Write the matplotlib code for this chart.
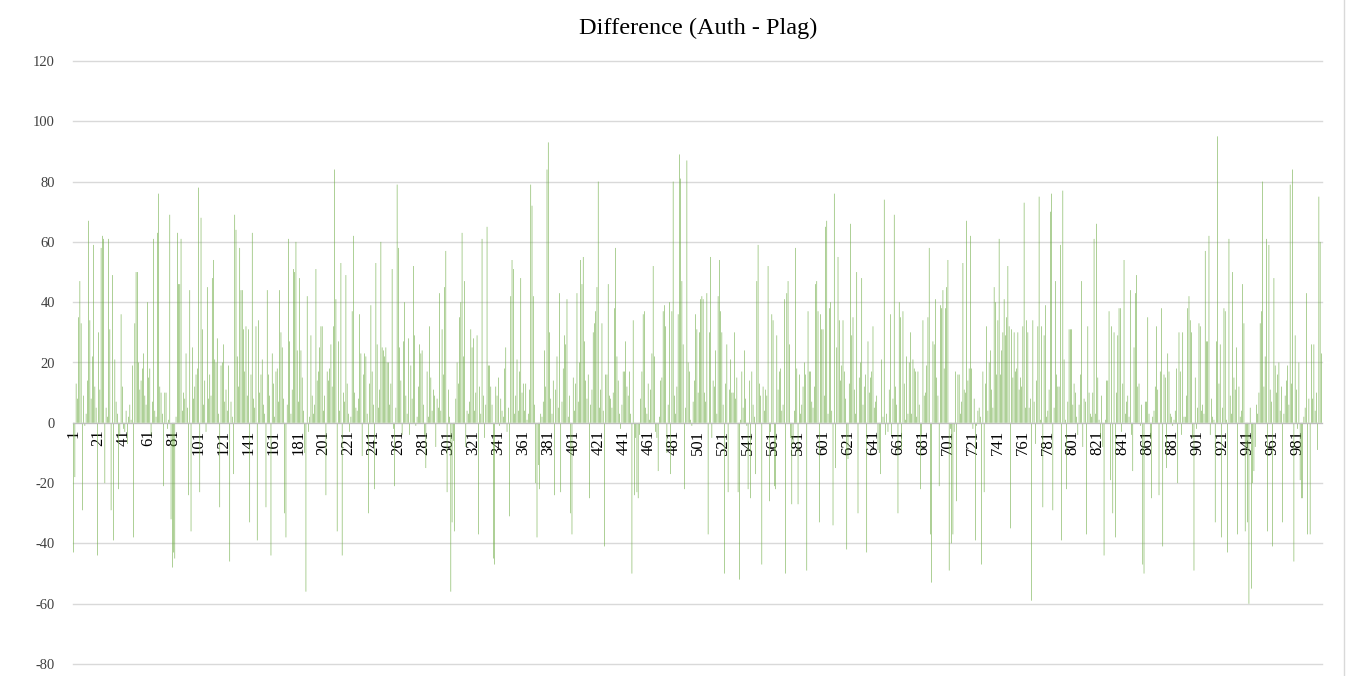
import numpy as np
import matplotlib
matplotlib.use('Agg')
import matplotlib.pyplot as plt
from matplotlib.lines import Line2D

# Auth - Plag difference per document, in runs of ~84 documents
seg01 = [-43, -18, 13, 8, 35, 47, 33, -29, 9, -1,
         3, 14, 67, 34, 8, 22, 59, 12, 5, -44,
         30, 11, 58, 62, 61, -20, 5, 2, 61, 31,
         -29, 49, -39, 21, 7, 3, -22, -4, 36, 12,
         -2, -3, 4, -7, 2, 6, 1, 19, -38, 33,
         50, 50, 20, 11, 14, 18, 23, 9, 6, 40,
         15, 18, -4, 7, 61, 4, 2, 63, 76, 12,
         10, 3, -21, 10, 10, -2, 1, 69, -32, -48,
         -43]
seg02 = [-45, 2, 63, 46, 46, 61, 4, 10, 8, 23,
         5, -24, 44, -36, 25, 8, 12, 16, 18, 78,
         -23, 68, 31, 6, 14, -3, 45, 8, 16, 9,
         48, 54, 21, 20, 28, 3, -28, 19, 20, 26,
         7, 11, 4, 19, -46, 7, 2, -17, 69, 64,
         22, 12, 58, 44, 44, 31, 17, 32, 9, 31,
         -33, 16, 63, 8, 5, 32, -39, 34, 10, 16,
         21, 6, 3, -28, 44, 16, 9, -44, 23, 13,
         2, 17, 18, 7]
seg03 = [44, 30, 25, 8, -30, -38, 6, 61, 27, 3,
         11, 51, 50, 60, 24, 7, 48, 24, 15, 4,
         -10, -56, 42, -3, 2, 29, 9, 3, 6, 51,
         14, 17, 25, 32, 32, 4, 9, -24, 17, 14,
         18, 26, 12, 32, 84, 41, -36, 27, 4, 53,
         -44, 10, 7, 49, 13, 3, -3, 2, 37, 62,
         10, 5, 4, 8, 36, 23, -11, 16, 23, 22,
         3, -30, 13, 39, 17, 6, -22, 53, 26, 5,
         11, 60, 25, 24]
seg04 = [22, 25, 20, 20, 6, 13, 51, -2, -21, 5,
         79, 58, 25, 14, -4, 27, 40, 9, 3, 28,
         -4, 19, 8, 52, 29, -1, 2, 12, 26, 23,
         24, 6, -4, -15, 17, 2, 32, 15, 4, 11,
         9, -8, 8, 5, 43, 4, 31, 16, 45, 57,
         -23, 11, 2, -56, -33, -6, -36, 8, 20, 13,
         35, 40, 63, 22, 47, -8, 4, 3, 7, 31,
         25, 28, 4, 10, 29, -37, 12, 3, 61, 9,
         -5, 6, 65, 19]
seg05 = [19, 12, 6, -45, -47, 12, 9, 15, -1, 8,
         4, 2, 18, 25, -3, 5, -31, 42, 54, 51,
         3, 9, 21, 4, 17, 48, 10, 13, 4, 13,
         1, 3, 11, 79, 72, 42, 6, -20, -38, -14,
         -22, 3, 2, 7, 24, 12, 84, 93, 30, 8,
         3, 14, -24, 11, 22, 5, 43, -23, 7, 18,
         29, 26, 41, 2, 9, -30, -37, 15, 4, 13,
         43, 7, 20, 54, 46, 55, 27, 14, 8, 16,
         -25, 6, 11, 30]
seg06 = [33, 37, 45, 80, 5, 11, 33, 4, -41, 16,
         16, 46, 9, 8, 5, 10, 38, 58, 22, 14,
         3, -2, 6, 17, 17, 27, 12, 9, 17, 3,
         -50, 34, -24, -5, -23, -25, -4, 8, 17, 36,
         37, 5, 3, 13, 1, 11, 23, 52, 22, -3,
         -5, -16, 2, 14, 15, 37, 39, 32, -10, 6,
         40, -17, 37, 80, 9, 3, 12, 36, 89, 81,
         47, 26, -22, 5, 87, 20, 17, 1, -1, 7,
         14, 36, 31, 10]
seg07 = [30, 41, 42, 41, 10, 7, 43, -37, 30, 55,
         -5, 14, 12, 24, 3, 42, 54, 37, 30, 6,
         -50, 13, 26, -23, 11, 21, 10, 10, 30, 8,
         15, -23, -52, 1, 17, 5, 24, 8, -1, -22,
         14, -25, 17, 6, 2, -17, 47, 59, 13, 9,
         -47, 12, 4, 11, 9, 52, -26, -3, 36, 34,
         -21, -22, 29, 11, 17, 18, 4, 6, 41, -50,
         43, 47, 26, -5, -27, -7, 4, 58, 18, -27,
         16, 3, 6, 12]
seg08 = [20, 16, -49, 37, 17, 17, 7, 5, 12, 46,
         47, 37, -33, 36, 31, 31, 9, 65, 67, 3,
         38, 40, 4, -34, 76, -15, 25, 55, 34, 14,
         19, 34, 17, 8, -42, -12, 13, 66, 29, 35,
         11, 3, 50, -30, 15, 20, 48, 6, 12, 16,
         -43, 27, 10, 15, 17, 32, 5, 7, 9, -9,
         -10, -17, 21, 2, 74, -4, 3, -3, 11, 36,
         -4, 8, 69, 12, 6, -30, 40, 35, -9, 37,
         13, 1, 22, 3]
seg09 = [20, 30, 3, 21, 18, 17, 2, 17, 6, -22,
         -4, 34, 9, 10, 19, 35, 58, -37, -53, 27,
         26, 41, 15, 9, -21, 39, 38, 44, 18, 38,
         45, 54, -49, -2, -40, -37, -3, 17, -26, 16,
         16, 3, 7, 53, 11, 10, 67, 14, 18, 62,
         18, -2, 8, -39, -1, 4, 5, 2, -47, 17,
         -23, 13, 32, 4, 20, 24, 11, 5, 45, 40,
         16, 34, 61, 16, 24, 30, 41, 29, 35, 52,
         32, -35, 31, 15, 30]
seg10 = [17, 18, 30, 11, 15, 12, 32, 73, 5, 34,
         30, 5, 8, -59, 34, 7, -7, 14, 32, 75,
         1, 32, -28, 29, 39, 2, 4, 11, 70, 76,
         -29, 5, 47, 16, 12, 12, 59, -39, 77, 21,
         1, -22, 7, 31, 31, 31, 6, 13, 10, 2,
         -4, 6, 16, 47, -8, 8, 7, -37, 32, 10,
         3, 2, 10, 61, 3, 66, 15, 1, -5, 9,
         -8, -44, 1, 14, 14, 37, -19, 32, -30, 30,
         -38, 10, 29, 38]
seg11 = [38, -3, 13, 54, 3, 7, 9, 2, 44, -4,
         -16, 25, 43, 49, 12, 13, -1, 6, -47, -50,
         7, 7, 35, 3, -5, -25, 2, 4, 12, 32,
         11, -24, 17, 38, -41, 16, 15, -15, 23, 17,
         3, 2, -1, 1, 4, 18, -20, 30, 17, -4,
         30, 2, 2, 9, 38, 42, 34, 30, -5, -49,
         15, -2, 5, 33, 32, 4, 6, 3, 57, 27,
         27, 62, -4, 8, 2, 1, -33, 27, 95, 13,
         26, -38, 5, 38]
seg12 = [37, 1, -43, 61, 9, 3, 50, 15, 11, 25,
         -37, 12, 2, 4, 46, 33, -36, -8, -33, -60,
         5, -55, -20, -16, -8, 6, 3, 10, 33, 37,
         80, 12, 22, 61, -36, 59, 11, 7, -41, 48,
         19, 10, 16, 20, 4, 12, -33, 3, 9, 14,
         19, 6, 79, 13, 84, -46, 29, 11, -2, 20,
         -19, -25, -25, 2, 5, 43, -37, 8, -37, 26,
         8, 26, 4, 10, -9, 75, 60, 23]

diff = (seg01 + seg02 + seg03 + seg04 + seg05 + seg06 +
        seg07 + seg08 + seg09 + seg10 + seg11 + seg12)
docs = np.arange(1, len(diff) + 1)
tick_docs = list(range(1, len(diff) + 1, 20))
y_ticks = list(range(-80, 121, 20))

plt.rcParams['font.family'] = 'Liberation Serif'
plt.rcParams['axes.unicode_minus'] = False

W, H = 1351, 676
fig = plt.figure(figsize=(W / 100, H / 100), dpi=100)
ax = fig.add_axes([73 / W, 12 / H, 1249 / W, 603 / H])

# half-pixel wide bars, left unsnapped so they come out as a light haze
ax.bar(docs, diff, width=0.45, color='#70ad47', linewidth=0, zorder=2,
       snap=False)

ax.set_xlim(0.5, len(diff) + 0.5)
ax.set_ylim(-80, 120)
ax.set_yticks(y_ticks)
ax.yaxis.grid(True, color='#d9d9d9', linewidth=1)
for gl in ax.get_ygridlines():
    gl.set_clip_on(False)
ax.set_axisbelow(True)

for s in ['top', 'right', 'left']:
    ax.spines[s].set_visible(False)
ax.spines['bottom'].set_position(('data', 0))
ax.spines['bottom'].set_color('#bfbfbf')
ax.spines['bottom'].set_zorder(3)

ax.set_xticks(tick_docs)
ax.set_xticklabels([str(d) for d in tick_docs], rotation=90, fontsize=12)
ax.tick_params(axis='x', length=0, pad=5, colors='#000000')
ax.tick_params(axis='y', length=0, pad=13, labelsize=10.5, colors='#404040')

fig.text(698 / W, 1 - 28 / H, 'Difference (Auth - Plag)', ha='center',
         va='center', fontsize=17.5, color='#000000')

# chart area border
fig.add_artist(Line2D([1343.5 / W] * 2, [0, 1], color='#d9d9d9', linewidth=1))

fig.savefig('out.png', dpi=100)
